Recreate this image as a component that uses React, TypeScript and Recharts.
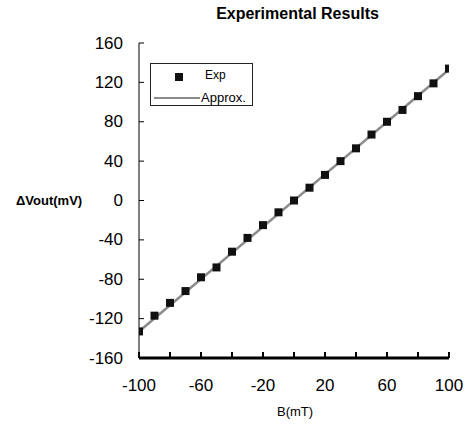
import React from 'react';
import { ComposedChart, Scatter, Line, XAxis, YAxis } from 'recharts';

// magnetic field (mT) and measured output change (mV)
const bValues = [-100, -90, -80, -70, -60, -50, -40, -30, -20, -10, 0, 10, 20, 30, 40, 50, 60, 70, 80, 90, 100];
const expValues = [-133, -117, -104, -92, -78, -68, -52, -38, -25, -12, 0, 13, 26, 40, 53, 67, 80, 92, 106, 119, 134];

// fitted line endpoints
const approxB = [-100, 100];
const approxValues = [-133, 133];

const xTicks = [-100, -80, -60, -40, -20, 0, 20, 40, 60, 80, 100];
const xLabels = [-100, -60, -20, 20, 60, 100];
const yTicks = [-160, -120, -80, -40, 0, 40, 80, 120, 160];

const expData = bValues.map((b, i) => ({ b, v: expValues[i] }));
const approxData = approxB.map((b, i) => ({ b, v: approxValues[i] }));

const FONT = 'Arial, "Liberation Sans", sans-serif';

const XTick = (props: any) => {
    const { x, y, payload } = props;
    const showLabel = xLabels.includes(payload.value);
    return (
        <g>
            <line x1={x} x2={x} y1={y} y2={y - 6} stroke="#000" strokeWidth={2} />
            {showLabel && (
                <text x={x} y={y + 27} textAnchor="middle" dominantBaseline="central"
                    fontFamily={FONT} fontSize={17} fill="#000">
                    {payload.value}
                </text>
            )}
        </g>
    );
};

const YTick = (props: any) => {
    const { x, y, payload } = props;
    return (
        <g>
            <line x1={x} x2={x + 5} y1={y} y2={y} stroke="#000" strokeWidth={1} />
            <text x={x - 16} y={y} textAnchor="end" dominantBaseline="central"
                fontFamily={FONT} fontSize={17} fill="#000">
                {payload.value}
            </text>
        </g>
    );
};

const SquareDot = (props: any) => {
    const { cx, cy } = props;
    return <rect x={cx - 4} y={cy - 4} width={8} height={8} fill="#111" />;
};

export default function App() {
    return (
        <div style={{ position: 'absolute', left: 0, top: 0, width: 467, height: 424, background: '#fff', fontFamily: FONT }}>
            <div style={{ position: 'absolute', left: 0, width: 595, top: 5, textAlign: 'center', fontSize: 16, fontWeight: 'bold', color: '#000' }}>
                Experimental Results
            </div>
            <ComposedChart width={467} height={424} margin={{ top: 43, right: 18, bottom: 26, left: 16 }}>
                <XAxis
                    type="number"
                    dataKey="b"
                    domain={[-100, 100]}
                    ticks={xTicks}
                    interval={0}
                    height={40}
                    tickSize={0}
                    tickMargin={0}
                    tickLine={false}
                    tick={<XTick />}
                    axisLine={{ stroke: '#000', strokeWidth: 3 }}
                    allowDataOverflow
                />
                <YAxis
                    type="number"
                    dataKey="v"
                    domain={[-160, 160]}
                    ticks={yTicks}
                    interval={0}
                    width={123}
                    tickSize={0}
                    tickMargin={0}
                    tickLine={false}
                    tick={<YTick />}
                    axisLine={{ stroke: '#000', strokeWidth: 1 }}
                    label={{ value: 'ΔVout(mV)', position: 'insideLeft', offset: 0, fontFamily: FONT, fontSize: 13, fontWeight: 'bold', fill: '#000' }}
                />
                <Scatter data={expData} dataKey="v" shape={<SquareDot />} isAnimationActive={false} />
                <Line data={approxData} dataKey="v" type="linear" stroke="#8c8c8c" strokeWidth={2.5} dot={false} isAnimationActive={false} />
            </ComposedChart>
            <div style={{ position: 'absolute', left: 277, top: 404, fontSize: 13, color: '#000' }}>B(mT)</div>
            <div style={{ position: 'absolute', left: 150, top: 63, width: 103, height: 43, border: '1px solid #222', background: '#fff', boxSizing: 'border-box' }}>
                <div style={{ position: 'absolute', left: 24, top: 9, width: 8, height: 8, background: '#111' }} />
                <div style={{ position: 'absolute', left: 54, top: 4, fontSize: 12 }}>Exp</div>
                <div style={{ position: 'absolute', left: 3, top: 33, width: 46, height: 0, borderTop: '2.5px solid #8c8c8c' }} />
                <div style={{ position: 'absolute', left: 50, top: 26, fontSize: 13 }}>Approx.</div>
            </div>
        </div>
    );
}
